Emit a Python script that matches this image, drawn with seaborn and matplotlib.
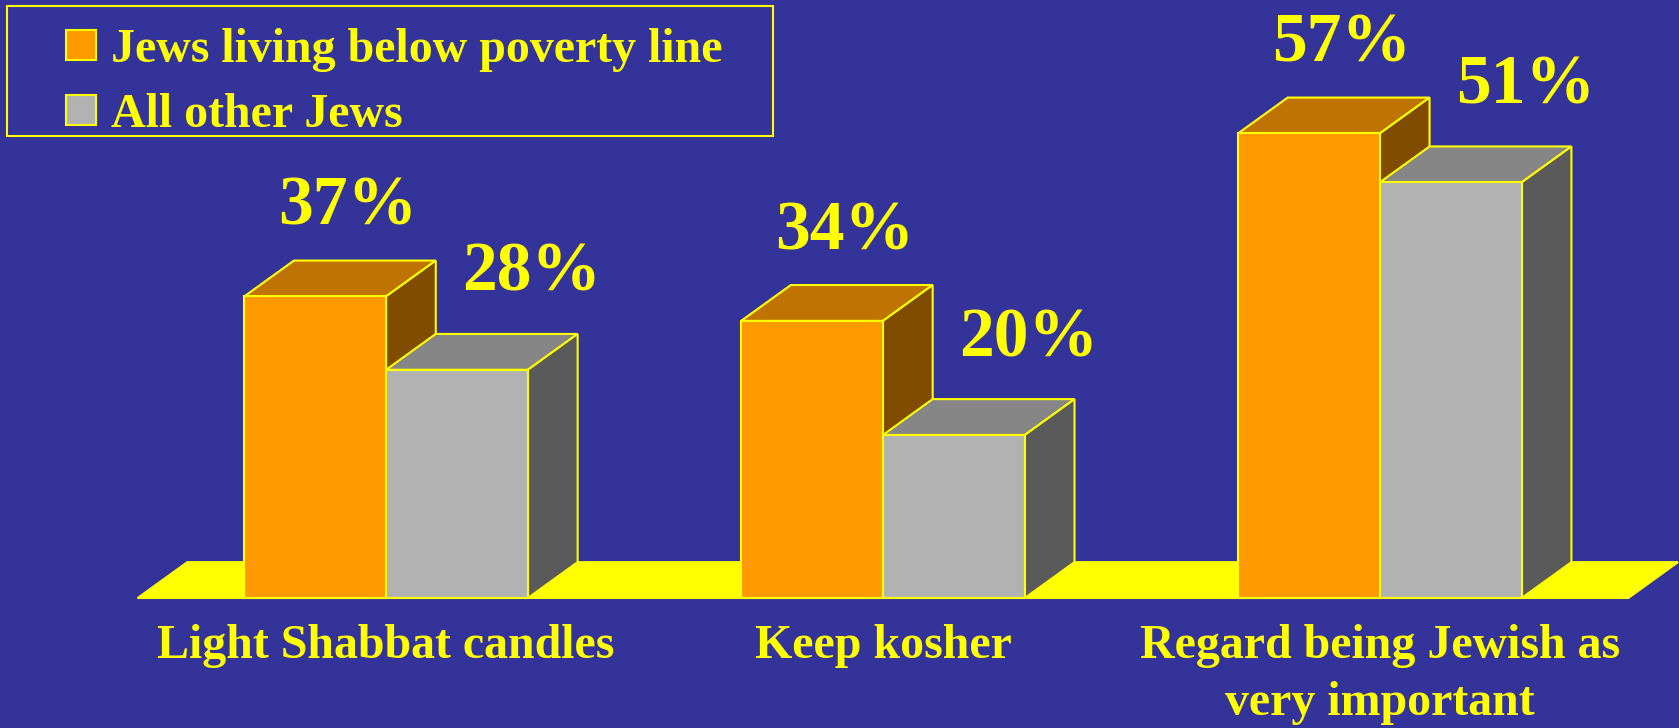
import pandas as pd
import seaborn as sns
import matplotlib.pyplot as plt
import matplotlib.patches as mpatches
from matplotlib.legend_handler import HandlerPatch

# data
categories = ["Light Shabbat candles", "Keep kosher",
              "Regard being Jewish as\nvery important"]
groups = ["Jews living below poverty line", "All other Jews"]
below_poverty = [37, 34, 57]
other_jews = [28, 20, 51]

NAVY = "#333399"
YELLOW = "#FFFF00"
front_colors = ["#FF9900", "#B2B2B2"]
top_colors = ["#BF7300", "#868686"]
side_colors = ["#7F4C00", "#5A5A5A"]

df = pd.DataFrame({
    "activity": categories * 2,
    "group": [groups[0]] * len(categories) + [groups[1]] * len(categories),
    "pct": below_poverty + other_jews,
})

sns.set_style("white")
plt.rcParams["font.family"] = ["Liberation Serif", "DejaVu Serif"]
plt.rcParams["font.weight"] = "bold"

W, H = 1679, 728
fig = plt.figure(figsize=(W / 100, H / 100), dpi=100, facecolor=NAVY)
ax = fig.add_axes([0, 0, 1, 1])
sns.barplot(data=df, x="activity", y="pct", hue="group", hue_order=groups,
            palette=front_colors, saturation=1, width=0.571, gap=0,
            errorbar=None, edgecolor=YELLOW, linewidth=1.5, legend=False,
            ax=ax, zorder=3)

# fake 3d depth, in data units
DX, DY = 0.1, 4.4
PX = 0.72  # points per pixel at dpi 100

ax.set_xlim(-0.777, 2.602)
ax.set_ylim(-15.95, 73.37)
ax.axis("off")

n = len(categories)
floor = mpatches.Polygon([(-0.5, 0), (n - 0.5, 0), (n - 0.5 + DX, DY),
                          (-0.5 + DX, DY)], closed=True, fc=YELLOW,
                         ec=YELLOW, lw=1.5, zorder=1)
ax.add_patch(floor)

series = [below_poverty, other_jews]
label_off = [(33, 36), (75, 43)]
for k, bars in enumerate(ax.containers):
    for rect, val in zip(bars, series[k]):
        x0, w, h = rect.get_x(), rect.get_width(), rect.get_height()
        top = mpatches.Polygon([(x0, h), (x0 + w, h), (x0 + w + DX, h + DY),
                                (x0 + DX, h + DY)], closed=True,
                               fc=top_colors[k], ec=YELLOW, lw=1.5,
                               zorder=2 + 0.5 * k)
        side = mpatches.Polygon([(x0 + w, 0), (x0 + w + DX, DY),
                                 (x0 + w + DX, h + DY), (x0 + w, h)],
                                closed=True, fc=side_colors[k], ec=YELLOW,
                                lw=1.5, zorder=2 + 0.5 * k)
        ax.add_patch(top)
        ax.add_patch(side)
        ox, oy = label_off[k]
        ax.annotate(f"{val}%", xy=(x0 + w / 2, h + DY),
                    xytext=(ox * PX, oy * PX), textcoords="offset points",
                    ha="center", va="baseline", fontsize=50,
                    fontweight="bold", color=YELLOW, zorder=5)

for i, cat in enumerate(categories):
    ax.text(i, -3.25, cat, ha="center", va="top", fontsize=34.5,
            fontweight="bold", color=YELLOW, linespacing=1.36)


def square_handle(legend, orig_handle, xdescent, ydescent, width, height,
                  fontsize):
    s = 0.62 * fontsize
    return mpatches.Rectangle((-xdescent + width - s,
                               -ydescent + (height - s) / 2), s, s)


# legend box drawn on its own (behind the axes) so the padding can match
fig.patches.append(mpatches.Rectangle((7 / W, 1 - 136 / H), 766 / W, 130 / H,
                                      transform=fig.transFigure, fc=NAVY,
                                      ec=YELLOW, lw=1.5, zorder=-1))
handles = [mpatches.Patch(fc=c, ec=YELLOW, lw=1.5, label=g)
           for c, g in zip(front_colors, groups)]
leg = ax.legend(handles=handles, loc="upper left",
                bbox_to_anchor=(17 / W, 1 - 28 / H),
                bbox_transform=fig.transFigure, frameon=False,
                borderaxespad=0, borderpad=0, labelspacing=0.43,
                handlelength=1.65, handletextpad=0.31,
                prop={"family": "Liberation Serif", "weight": "bold",
                      "size": 34.5},
                handler_map={mpatches.Patch: HandlerPatch(patch_func=square_handle)})
leg.set_zorder(6)
for t in leg.get_texts():
    t.set_color(YELLOW)

fig.savefig("out.png", dpi=100, facecolor=NAVY)
